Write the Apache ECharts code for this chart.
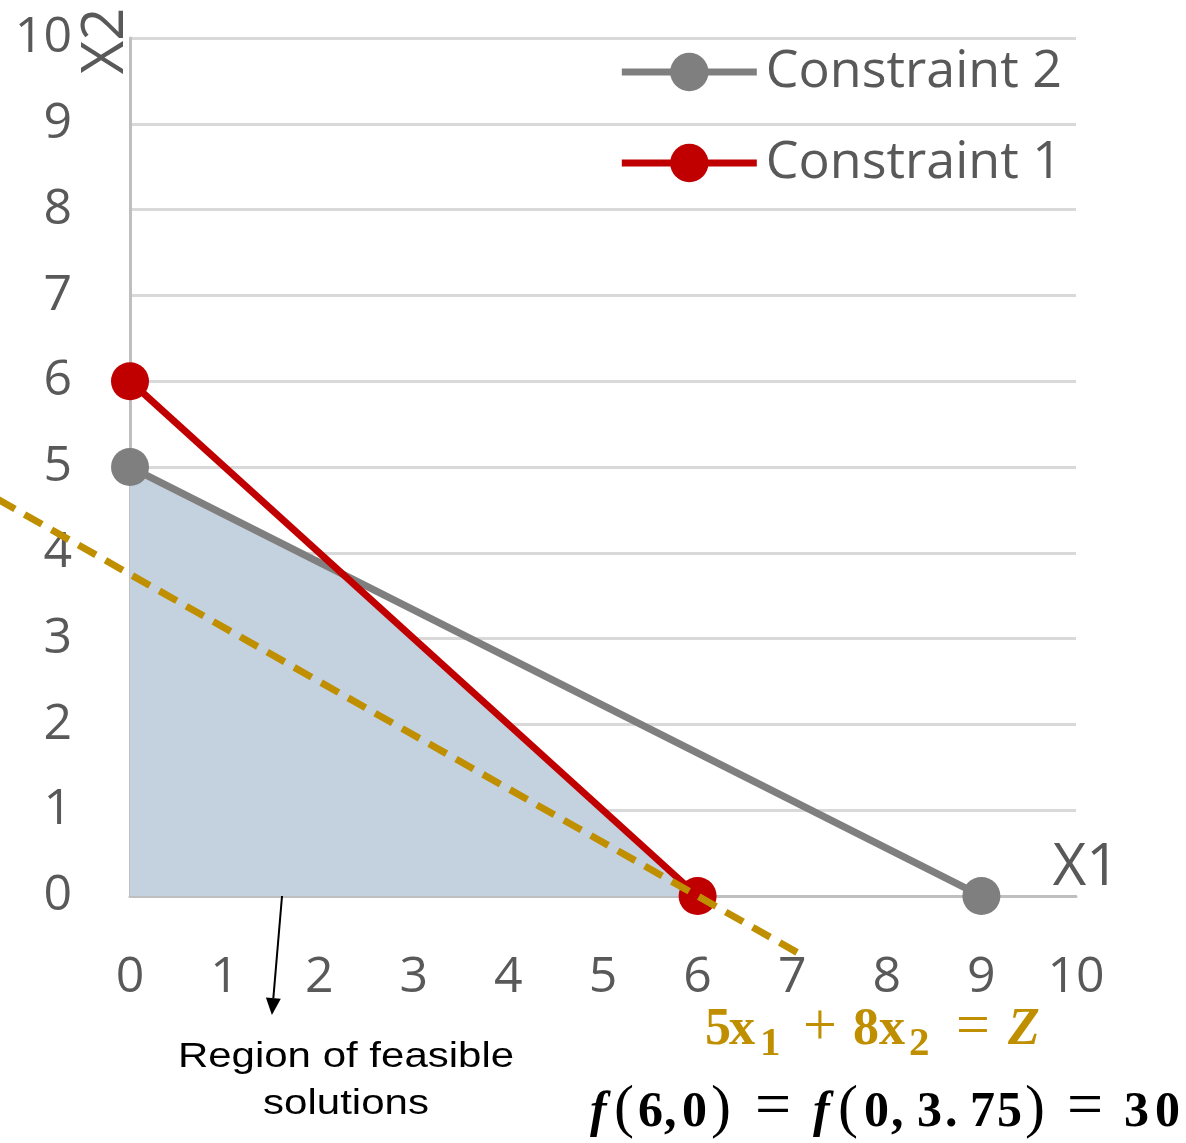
<!DOCTYPE html>
<html>
<head>
<meta charset="utf-8">
<title>Linear programming – graphical solution</title>
<script src="https://cdn.jsdelivr.net/npm/echarts@6/dist/echarts.min.js"></script>
<style>
  html, body { margin: 0; padding: 0; background: #ffffff; }
  #chart { width: 1186px; height: 1143px; }
</style>
</head>
<body>
<div id="chart"></div>
<script>
// ---- data -------------------------------------------------------------
// Constraint 1:  x1 + x2 <= 6
const constraint1 = [[0, 6], [6, 0]];
// Constraint 2:  5x1 + 9x2 <= 45
const constraint2 = [[0, 5], [9, 0]];
// Upper boundary of the feasible region (area is filled down to x2 = 0)
const feasibleRegion = [[0, 5], [2.25, 3.75], [6, 0]];
// Objective iso-line 5x1 + 8x2 = 30, drawn a little past both axes: [fromX, fromY, toX, toY]
const objectiveLine = [[-1.4, 4.625, 7.14, -0.7125]];
// Pointer from the shaded region down to its caption: [fromX, fromY, toX, toY]
const regionPointer = [[1.607, 0, 1.50, -1.387]];
// Axis range and tick step
const axisMin = 0;
const axisMax = 10;
const tickStep = 1;
const seriesNames = ['Constraint 2', 'Constraint 1'];

// ---- styling ----------------------------------------------------------
const AXIS_TEXT = '#595959';
const GOLD = '#bf8f00';
const SERIF = '"Liberation Serif", "Times New Roman", serif';
const SANS = '"Open Sans", "Noto Sans", sans-serif';

// Liberation fonts: canvas "middle" sits about 0.3375em above the baseline
function midFromBaseline(baseline, size) { return baseline - 0.3375 * size; }

function glyph(text, x, baseline, opts) {
  const size = opts.size;
  return {
    type: 'text',
    silent: true,
    x: x,
    y: midFromBaseline(baseline, size),
    z: 100,
    style: {
      text: text,
      fontFamily: SERIF,
      fontSize: size,
      fontWeight: opts.weight || 'bold',
      fontStyle: opts.style || 'normal',
      fill: opts.color,
      align: opts.align || 'left',
      verticalAlign: 'middle'
    }
  };
}

// objective function  5x1 + 8x2 = Z
const goldMain = { size: 52, color: GOLD };
const goldSub = { size: 41, color: GOLD };
const goldOp = { size: 60, color: GOLD, weight: 'normal', align: 'center' };
const goldItalic = { size: 52, color: GOLD, style: 'italic' };
const objectiveText = [
  glyph('5', 705, 1048, goldMain),
  glyph('x', 729, 1048, goldMain),
  glyph('1', 760, 1058, goldSub),
  glyph('+', 820, 1048, goldOp),
  glyph('8', 853, 1048, goldMain),
  glyph('x', 879, 1048, goldMain),
  glyph('2', 909, 1058, goldSub),
  glyph('=', 973, 1048, goldOp),
  glyph('Z', 1008, 1048, goldItalic)
];

// optimum value  f(6,0) = f(0,3.75) = 30
const blkMain = { size: 50, color: '#000000' };
const blkItalic = { size: 50, color: '#000000', style: 'italic' };
const blkParen = { size: 60, color: '#000000', weight: 'normal' };
const blkOp = { size: 64, color: '#000000', weight: 'normal', align: 'center' };
const optimumText = [
  glyph('f', 590, 1130, blkItalic),
  glyph('(', 614, 1130, blkParen),
  glyph('6', 638, 1130, blkMain),
  glyph(',', 664, 1130, blkMain),
  glyph('0', 682, 1130, blkMain),
  glyph(')', 711, 1130, blkParen),
  glyph('=', 773, 1130, blkOp),
  glyph('f', 813, 1130, blkItalic),
  glyph('(', 838, 1130, blkParen),
  glyph('0', 864, 1130, blkMain),
  glyph(',', 891, 1130, blkMain),
  glyph('3', 917, 1130, blkMain),
  glyph('.', 945, 1130, blkMain),
  glyph('7', 970, 1130, blkMain),
  glyph('5', 997, 1130, blkMain),
  glyph(')', 1025, 1130, blkParen),
  glyph('=', 1085, 1130, blkOp),
  glyph('3', 1124, 1130, blkMain),
  glyph('0', 1155, 1130, blkMain)
];

const regionCaption = {
  type: 'text',
  silent: true,
  x: 346,
  y: 1081,
  scaleX: 1.2,
  z: 100,
  style: {
    text: 'Region of feasible\nsolutions',
    fontFamily: '"Liberation Sans", Arial, sans-serif',
    fontSize: 35,
    lineHeight: 47,
    fill: '#000000',
    align: 'center',
    verticalAlign: 'middle'
  }
};

// vertical axis title, reading bottom-to-top beside the top tick
const yAxisTitle = {
  type: 'text',
  silent: true,
  x: 106,
  y: 41,
  rotation: Math.PI / 2,
  z: 100,
  style: {
    text: 'X2',
    fontFamily: SANS,
    fontSize: 58,
    fill: AXIS_TEXT,
    align: 'center',
    verticalAlign: 'middle'
  }
};

// straight segment between two data points, optionally dashed / with arrow head
function segmentRenderer(stroke, lineWidth, dash, arrow) {
  return function (params, api) {
    const p0 = api.coord([api.value(0), api.value(1)]);
    const p1 = api.coord([api.value(2), api.value(3)]);
    if (!arrow) {
      return {
        type: 'line',
        shape: { x1: p0[0], y1: p0[1], x2: p1[0], y2: p1[1] },
        style: { stroke: stroke, lineWidth: lineWidth, lineDash: dash, lineCap: 'butt' }
      };
    }
    const dx = p1[0] - p0[0];
    const dy = p1[1] - p0[1];
    const len = Math.hypot(dx, dy);
    const ux = dx / len, uy = dy / len;
    const headLen = 17, headHalf = 7.5;
    const bx = p1[0] - ux * headLen;
    const by = p1[1] - uy * headLen;
    return {
      type: 'group',
      children: [
        {
          type: 'line',
          shape: { x1: p0[0], y1: p0[1], x2: bx, y2: by },
          style: { stroke: stroke, lineWidth: lineWidth }
        },
        {
          type: 'polygon',
          shape: {
            points: [
              [p1[0], p1[1]],
              [bx - uy * headHalf, by + ux * headHalf],
              [bx + uy * headHalf, by - ux * headHalf]
            ]
          },
          style: { fill: stroke }
        }
      ]
    };
  };
}

const chart = echarts.init(document.getElementById('chart'), null, { renderer: 'canvas' });

chart.setOption({
  animation: false,
  backgroundColor: '#ffffff',
  grid: {
    left: 130,
    right: 110,
    top: 38,
    bottom: 247,
    outerBoundsMode: 'none'
  },
  legend: {
    data: seriesNames,
    orient: 'vertical',
    right: 124,
    top: 42,
    padding: 0,
    itemWidth: 135,
    itemHeight: 48,
    itemGap: 31,
    selectedMode: false,
    lineStyle: { width: 7 },
    textStyle: {
      fontFamily: SANS,
      fontSize: 52,
      lineHeight: 60,
      color: AXIS_TEXT,
      padding: [0, 0, 0, 4]
    }
  },
  xAxis: {
    type: 'value',
    min: axisMin,
    max: axisMax,
    interval: tickStep,
    name: 'X1',
    nameLocation: 'end',
    nameGap: 10,
    nameMoveOverlap: false,
    nameTextStyle: {
      fontFamily: SANS,
      fontSize: 58,
      color: AXIS_TEXT,
      align: 'center',
      verticalAlign: 'bottom',
      lineHeight: 56
    },
    axisLine: { show: true, onZero: false, lineStyle: { color: '#bfbfbf', width: 3 } },
    axisTick: { show: false },
    splitLine: { show: false },
    axisLabel: {
      fontFamily: SANS,
      fontSize: 50,
      lineHeight: 50,
      color: AXIS_TEXT,
      margin: 57
    }
  },
  yAxis: {
    type: 'value',
    min: axisMin,
    max: axisMax,
    interval: tickStep,
    axisLine: { show: true, onZero: false, lineStyle: { color: '#bfbfbf', width: 3 } },
    axisTick: { show: false },
    splitLine: { show: true, lineStyle: { color: '#d9d9d9', width: 3 } },
    axisLabel: {
      fontFamily: SANS,
      fontSize: 50,
      color: AXIS_TEXT,
      margin: 58
    }
  },
  series: [
    {
      name: 'Feasible region',
      type: 'line',
      data: feasibleRegion,
      symbol: 'none',
      silent: true,
      lineStyle: { width: 0 },
      areaStyle: { color: '#c4d2e0', opacity: 1 },
      z: 1
    },
    {
      name: 'Constraint 2',
      type: 'line',
      data: constraint2,
      symbol: 'circle',
      symbolSize: 38,
      color: '#7f7f7f',
      itemStyle: { color: '#7f7f7f' },
      lineStyle: { color: '#7f7f7f', width: 7 },
      z: 3
    },
    {
      name: 'Constraint 1',
      type: 'line',
      data: constraint1,
      symbol: 'circle',
      symbolSize: 38,
      color: '#c00000',
      itemStyle: { color: '#c00000' },
      lineStyle: { color: '#c00000', width: 7 },
      z: 4
    },
    {
      name: 'Objective',
      type: 'custom',
      data: objectiveLine,
      encode: { x: [0, 2], y: [1, 3] },
      clip: false,
      silent: true,
      z: 5,
      renderItem: segmentRenderer(GOLD, 7, [20, 11], false)
    },
    {
      name: 'Region pointer',
      type: 'custom',
      data: regionPointer,
      encode: { x: [0, 2], y: [1, 3] },
      clip: false,
      silent: true,
      z: 6,
      renderItem: segmentRenderer('#000000', 2, null, true)
    }
  ],
  graphic: [regionCaption, yAxisTitle].concat(objectiveText, optimumText)
});
</script>
</body>
</html>
